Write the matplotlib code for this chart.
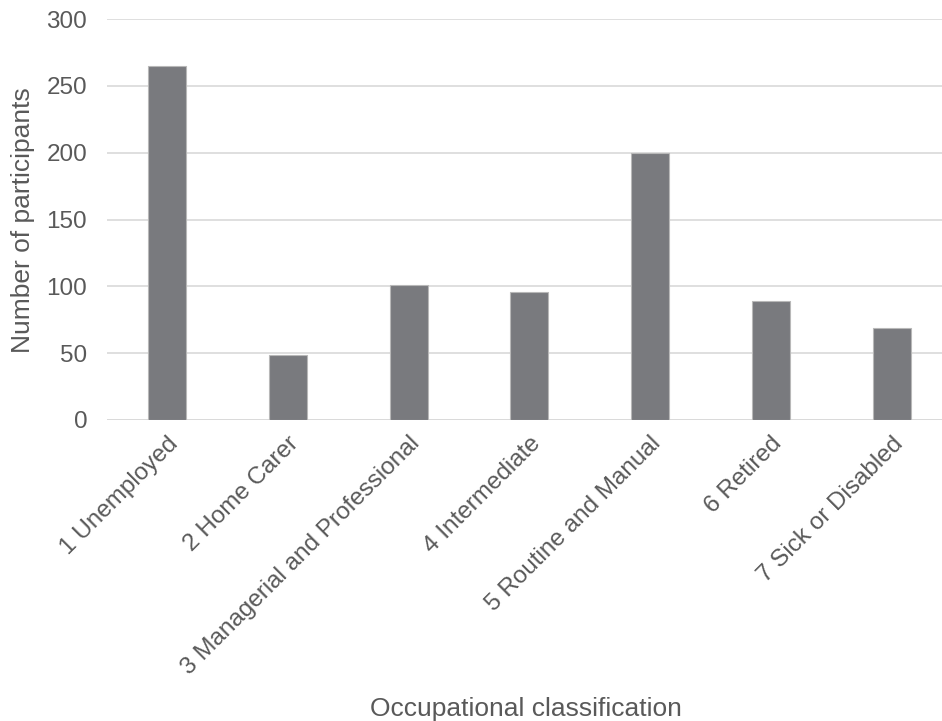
import matplotlib.pyplot as plt
import numpy as np

categories = ['1 Unemployed', '2 Home Carer', '3 Managerial and Professional',
              '4 Intermediate', '5 Routine and Manual', '6 Retired',
              '7 Sick or Disabled']
participants = [265, 49, 101, 96, 200, 89, 69]

plt.rcParams['font.family'] = ['Liberation Sans', 'DejaVu Sans']
text_col = '#595959'

fig = plt.figure(figsize=(9.42, 7.21), dpi=100)
# axes run slightly past the right edge of the figure
ax = fig.add_axes([106.6 / 942, 1 - 420 / 721, 845.4 / 942, 401 / 721])

x = np.arange(len(categories))
ax.bar(x, participants, width=0.315, color='#797a7e', edgecolor='#b8b8b8',
       linewidth=0.8, zorder=3)

ax.set_xlim(-0.5, len(categories) - 0.5)
ax.set_ylim(0, 300)
ax.set_yticks(np.arange(0, 301, 50))
ax.yaxis.grid(True, color='#d9d9d9', linewidth=1.2, zorder=0)
for s in ax.spines.values():
    s.set_visible(False)
ax.axhline(0, color='#d9d9d9', linewidth=1.2, zorder=1)

ax.set_xticks(x)
ax.set_xticklabels(categories, rotation=45, ha='right', rotation_mode='anchor')
ax.tick_params(axis='both', length=0, labelsize=17.5, labelcolor=text_col)
ax.tick_params(axis='x', pad=9)
ax.tick_params(axis='y', pad=14)

fig.text(23 / 942, 1 - 220 / 721, 'Number of participants', rotation=90,
         fontsize=19, color=text_col, ha='center', va='center')
fig.text(526 / 942, 1 - 709 / 721, 'Occupational classification',
         fontsize=19, color=text_col, ha='center', va='center')

fig.savefig('out.png', dpi=100, facecolor='white')
